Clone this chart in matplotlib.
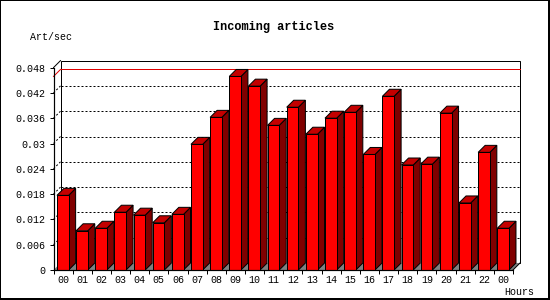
import matplotlib
matplotlib.use("Agg")
import matplotlib.pyplot as plt
from matplotlib.patches import Polygon, Rectangle
from matplotlib.lines import Line2D

# ---- data ----
hours = ["00", "01", "02", "03", "04", "05", "06", "07", "08", "09", "10", "11",
         "12", "13", "14", "15", "16", "17", "18", "19", "20", "21", "22", "00"]
values = [0.0177, 0.0093, 0.0099, 0.0137, 0.0130, 0.0112, 0.0132, 0.0298,
          0.0362, 0.0459, 0.0436, 0.0343, 0.0386, 0.0322, 0.0360, 0.0374,
          0.0274, 0.0412, 0.0249, 0.0251, 0.0372, 0.0159, 0.0279, 0.0099]
y_ticks = [0, 0.006, 0.012, 0.018, 0.024, 0.03, 0.036, 0.042, 0.048]
y_tick_labels = ["0", "0.006", "0.012", "0.018", "0.024", "0.03", "0.036", "0.042", "0.048"]
title = "Incoming articles"
y_unit = "Art/sec"
x_unit = "Hours"

# ---- style ----
W, H = 550, 300
PX = 0.72  # one pixel in points
FONT = "Liberation Mono"
FRONT = "#ff0000"
SIDE = "#800000"
TOP = "#c40000"
FLOOR = "#808080"
DEPTH = 7  # pixels

fig = plt.figure(figsize=(W / 100, H / 100), dpi=100)
fig.patch.set_facecolor("white")
ax = fig.add_axes([53.5 / W, 30 / H, 459.5 / W, 202.4 / H])
n = len(values)
ymax = y_ticks[-1]
ax.set_xlim(0, n)
ax.set_ylim(0, ymax)
ax.set_facecolor("none")

dx = DEPTH / (ax.bbox.width / n)
dy = DEPTH / (ax.bbox.height / ymax)

# back plane
ax.add_patch(Rectangle((dx, dy), n, ymax, facecolor="white", edgecolor="black",
                       lw=PX, zorder=1, clip_on=False, snap=True))
# grid lines (dashed) on back plane, with diagonal from front axis
for t in y_ticks[1:-1]:
    ax.add_line(Line2D([dx, n + dx], [t + dy, t + dy], color="black", lw=PX,
                       linestyle=(0, (2, 2)), zorder=2, clip_on=False, snap=True))
    ax.add_line(Line2D([0, dx], [t, t + dy], color="black", lw=PX,
                       linestyle=(0, (2, 2)), zorder=2, clip_on=False))
# top-left diagonal
ax.add_line(Line2D([0, dx], [ymax, ymax + dy], color="black", lw=PX, zorder=2, clip_on=False))
# max line
m = max(values)
ax.add_line(Line2D([dx, n + dx], [m + dy, m + dy], color="#e00000", lw=PX,
                   zorder=3, clip_on=False, snap=True))
ax.add_line(Line2D([0, dx], [m, m + dy], color="#e00000", lw=PX, zorder=3, clip_on=False))
# floor
ax.add_patch(Polygon([(0, 0), (n, 0), (n + dx, dy), (dx, dy)], closed=True,
                     facecolor=FLOOR, edgecolor="none", zorder=3, clip_on=False))
ax.add_line(Line2D([n, n + dx], [0, dy], color="black", lw=PX, zorder=3, clip_on=False))

# bars
bw = 0.61
off = 0.18
for i, v in enumerate(values):
    x0 = i + off
    x1 = x0 + bw
    ax.add_patch(Polygon([(x1, 0), (x1 + dx, dy), (x1 + dx, v + dy), (x1, v)], closed=True,
                         facecolor=SIDE, edgecolor="black", lw=PX, zorder=5, clip_on=False))
    ax.add_patch(Polygon([(x0, v), (x1, v), (x1 + dx, v + dy), (x0 + dx, v + dy)], closed=True,
                         facecolor=TOP, edgecolor="black", lw=PX, zorder=5, clip_on=False))
    ax.add_patch(Rectangle((x0, 0), bw, v, facecolor=FRONT, edgecolor="black",
                           lw=PX, zorder=6, clip_on=False, snap=True))

# axes
for s in ["top", "right"]:
    ax.spines[s].set_visible(False)
for s in ["left", "bottom"]:
    ax.spines[s].set_linewidth(PX * 1.2)
    ax.spines[s].set_zorder(7)
ax.set_yticks(y_ticks)
ax.set_yticklabels(y_tick_labels, fontfamily=FONT, fontsize=7.2)
ax.tick_params(axis="y", length=4 * PX, width=PX, pad=3.0, direction="out")
ax.set_xticks(range(n + 1))
ax.set_xticklabels([])
ax.tick_params(axis="x", which="major", length=4 * PX, width=PX, direction="out")
ax.set_xticks([i + 0.5 for i in range(n)], minor=True)
ax.set_xticklabels(hours, minor=True, fontfamily=FONT, fontsize=7.2)
ax.tick_params(axis="x", which="minor", length=0, pad=3.5)

# texts
fig.text(273.5 / W, 1 - 26.7 / H, title, ha="center", va="center",
         fontfamily=FONT, fontsize=8.6, fontweight="bold")
fig.text(30 / W, 1 - 36.7 / H, y_unit, ha="left", va="center", fontfamily=FONT, fontsize=7.2)
fig.text(504 / W, 1 - 292.3 / H, x_unit, ha="left", va="center", fontfamily=FONT, fontsize=7.2)

# outer frame
fig.add_artist(Rectangle((0, 1 / H), 549 / W, 299 / H, transform=fig.transFigure,
                         fill=False, edgecolor="black", lw=2 * PX, clip_on=False))

fig.savefig("out.png", dpi=100)
